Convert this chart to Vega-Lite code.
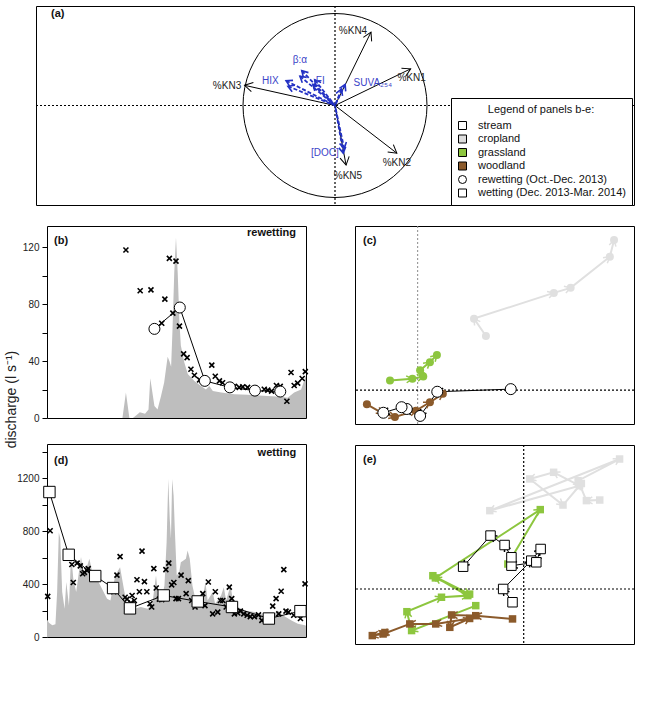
{
  "$schema": "https://vega.github.io/schema/vega-lite/v6.json",
  "background": "white",
  "padding": {"left": 3, "top": 4, "right": 5, "bottom": 5},
  "config": {
    "font": "Liberation Sans",
    "view": {"stroke": "black", "strokeWidth": 1},
    "axis": {"domain": false, "grid": false, "tickColor": "black", "tickSize": 5, "labelFont": "Liberation Sans", "labelFontSize": 10, "labelColor": "#222222", "labelPadding": 3, "titleFont": "Liberation Sans", "titleFontSize": 14, "titleFontWeight": "normal", "titleColor": "#222222"},
    "title": {"font": "Liberation Sans", "fontSize": 11, "fontWeight": "bold", "color": "#111111"}
  },
  "datasets": {
    "loadings": [
      {"var": "%KN1", "x": 0.82, "y": 0.40, "lx": 0.83, "ly": 0.30},
      {"var": "%KN2", "x": 0.67, "y": -0.52, "lx": 0.67, "ly": -0.63},
      {"var": "%KN3", "x": -0.98, "y": 0.22, "lx": -1.17, "ly": 0.21},
      {"var": "%KN4", "x": 0.39, "y": 0.80, "lx": 0.195, "ly": 0.81},
      {"var": "%KN5", "x": 0.12, "y": -0.65, "lx": 0.14, "ly": -0.77}
    ],
    "loadings_optical": [
      {"var": "HIX", "x": -0.53, "y": 0.27},
      {"var": "HIX", "x": -0.51, "y": 0.21},
      {"var": "β:α", "x": -0.36, "y": 0.38},
      {"var": "β:α", "x": -0.38, "y": 0.32},
      {"var": "FI", "x": -0.22, "y": 0.28},
      {"var": "FI", "x": -0.24, "y": 0.23},
      {"var": "SUVA₂₅₄", "x": 0.11, "y": 0.23},
      {"var": "SUVA₂₅₄", "x": 0.07, "y": 0.18},
      {"var": "[DOC]", "x": 0.09, "y": -0.52},
      {"var": "[DOC]", "x": 0.10, "y": -0.47}
    ],
    "labels_optical": [
      {"var": "HIX", "lx": -0.70, "ly": 0.27},
      {"var": "β:α", "lx": -0.38, "ly": 0.50},
      {"var": "FI", "lx": -0.16, "ly": 0.27},
      {"var": "SUVA₂₅₄", "lx": 0.41, "ly": 0.24},
      {"var": "[DOC]", "lx": -0.11, "ly": -0.52}
    ],
    "discharge_rewetting": [
      {"day": 2.8, "q": 0}, {"day": 24.5, "q": 0}, {"day": 25.5, "q": 18}, {"day": 26.5, "q": 0}, {"day": 27.5, "q": 0},
      {"day": 28.5, "q": 2}, {"day": 29.5, "q": 4}, {"day": 31, "q": 3}, {"day": 32, "q": 6}, {"day": 32.5, "q": 28},
      {"day": 33.7, "q": 8.5}, {"day": 34.6, "q": 6}, {"day": 35.6, "q": 15.5}, {"day": 36.5, "q": 25}, {"day": 37.5, "q": 43},
      {"day": 38, "q": 40}, {"day": 38.5, "q": 36}, {"day": 38.9, "q": 62}, {"day": 39.4, "q": 102}, {"day": 39.9, "q": 127},
      {"day": 40.4, "q": 102}, {"day": 40.9, "q": 67}, {"day": 41.3, "q": 51}, {"day": 42.3, "q": 39}, {"day": 43.3, "q": 31},
      {"day": 45.2, "q": 26}, {"day": 47.1, "q": 22.5}, {"day": 48.5, "q": 20}, {"day": 49.5, "q": 22.5}, {"day": 50.5, "q": 19},
      {"day": 52.9, "q": 18}, {"day": 56.7, "q": 16.7}, {"day": 60.5, "q": 16.3}, {"day": 66.3, "q": 15.5}, {"day": 70.1, "q": 15},
      {"day": 72, "q": 14.3}, {"day": 73.9, "q": 18}, {"day": 75.9, "q": 20}, {"day": 77.3, "q": 30}
    ],
    "doc_rewetting_hf": [
      {"day": 25.5, "doc": 18.1}, {"day": 29.6, "doc": 13.7}, {"day": 32.7, "doc": 13.8}, {"day": 36.7, "doc": 12.8},
      {"day": 38.0, "doc": 17.2}, {"day": 39.9, "doc": 16.9}, {"day": 35.8, "doc": 10.2}, {"day": 39.0, "doc": 11.3},
      {"day": 40.9, "doc": 9.9}, {"day": 42.1, "doc": 6.9}, {"day": 43.1, "doc": 6.5}, {"day": 44.2, "doc": 5.25},
      {"day": 45.2, "doc": 4.6}, {"day": 46.7, "doc": 4.1}, {"day": 47.8, "doc": 3.9}, {"day": 50.2, "doc": 5.7},
      {"day": 51.2, "doc": 4.5}, {"day": 52.4, "doc": 4.0}, {"day": 53.3, "doc": 3.8}, {"day": 56.7, "doc": 3.4},
      {"day": 58.1, "doc": 3.3}, {"day": 59.1, "doc": 3.35}, {"day": 60.5, "doc": 3.3}, {"day": 65.3, "doc": 3.1},
      {"day": 66.3, "doc": 3.0}, {"day": 67.4, "doc": 2.9}, {"day": 68.8, "doc": 3.5}, {"day": 69.9, "doc": 3.4},
      {"day": 71.8, "doc": 1.8}, {"day": 73.0, "doc": 4.9}, {"day": 73.9, "doc": 3.5}, {"day": 74.9, "doc": 3.75},
      {"day": 76.2, "doc": 4.25}, {"day": 77.1, "doc": 5.0}
    ],
    "doc_rewetting_samples": [
      {"day": 33.7, "doc": 9.6}, {"day": 41.0, "doc": 11.9}, {"day": 48.2, "doc": 4.0},
      {"day": 55.4, "doc": 3.3}, {"day": 62.6, "doc": 2.95}, {"day": 69.9, "doc": 2.85}
    ],
    "discharge_wetting": [
      {"day": 77.7, "q": 130}, {"day": 78, "q": 125}, {"day": 78.5, "q": 108}, {"day": 79.9, "q": 88}, {"day": 81.2, "q": 96},
      {"day": 81.9, "q": 340}, {"day": 82.6, "q": 792}, {"day": 83.2, "q": 742}, {"day": 84, "q": 340}, {"day": 85, "q": 214},
      {"day": 85.7, "q": 415}, {"day": 86.8, "q": 239}, {"day": 87.7, "q": 629}, {"day": 88.6, "q": 440}, {"day": 89.8, "q": 340},
      {"day": 91.8, "q": 604}, {"day": 93, "q": 465}, {"day": 95.3, "q": 591}, {"day": 96.1, "q": 520}, {"day": 97.1, "q": 453},
      {"day": 98.4, "q": 440}, {"day": 100.5, "q": 365}, {"day": 102.6, "q": 289}, {"day": 104, "q": 276}, {"day": 106, "q": 465},
      {"day": 108, "q": 528}, {"day": 109.8, "q": 340}, {"day": 111, "q": 239}, {"day": 113.9, "q": 214}, {"day": 116.6, "q": 226},
      {"day": 119.4, "q": 214}, {"day": 121.4, "q": 251}, {"day": 122.9, "q": 465}, {"day": 123.9, "q": 289}, {"day": 125, "q": 264},
      {"day": 126.4, "q": 390}, {"day": 127.3, "q": 717}, {"day": 128, "q": 1195}, {"day": 128.6, "q": 893}, {"day": 129.1, "q": 742},
      {"day": 129.6, "q": 1195}, {"day": 130.2, "q": 1069}, {"day": 130.7, "q": 817}, {"day": 131.5, "q": 465}, {"day": 132.5, "q": 490},
      {"day": 133.2, "q": 566}, {"day": 134.3, "q": 578}, {"day": 135.3, "q": 591}, {"day": 136, "q": 654}, {"day": 136.9, "q": 591},
      {"day": 138, "q": 390}, {"day": 139.2, "q": 289}, {"day": 140.6, "q": 239}, {"day": 142.2, "q": 289}, {"day": 143.4, "q": 415},
      {"day": 144.3, "q": 276}, {"day": 146.4, "q": 340}, {"day": 147.4, "q": 251}, {"day": 149.9, "q": 314}, {"day": 151, "q": 377},
      {"day": 152, "q": 276}, {"day": 153.8, "q": 390}, {"day": 154.9, "q": 264}, {"day": 156.8, "q": 226}, {"day": 159.6, "q": 201},
      {"day": 163.7, "q": 189}, {"day": 167.9, "q": 164}, {"day": 170.6, "q": 151}, {"day": 173.4, "q": 201}, {"day": 175.5, "q": 164},
      {"day": 178.9, "q": 126}, {"day": 181.7, "q": 101}, {"day": 184.7, "q": 88}, {"day": 185.1, "q": 85}
    ],
    "doc_wetting_hf": [
      {"day": 78, "doc": 4.4}, {"day": 79, "doc": 11.5}, {"day": 88.6, "doc": 5.9}, {"day": 88, "doc": 7.85}, {"day": 90.2, "doc": 8.0},
      {"day": 91.5, "doc": 7.7}, {"day": 92.5, "doc": 6.85}, {"day": 93.2, "doc": 7.0}, {"day": 94.3, "doc": 7.2}, {"day": 94.8, "doc": 7.4},
      {"day": 106.7, "doc": 6.7}, {"day": 108, "doc": 8.7}, {"day": 105.4, "doc": 4.9}, {"day": 110.1, "doc": 4.3}, {"day": 110.9, "doc": 4.1},
      {"day": 113, "doc": 4.5}, {"day": 113.9, "doc": 3.95}, {"day": 112.5, "doc": 3.7}, {"day": 115, "doc": 6.2}, {"day": 116, "doc": 4.9},
      {"day": 117.1, "doc": 9.3}, {"day": 118.1, "doc": 6.0}, {"day": 119.1, "doc": 4.9}, {"day": 120.4, "doc": 3.6}, {"day": 121.1, "doc": 3.25},
      {"day": 122, "doc": 7.4}, {"day": 123, "doc": 5.3}, {"day": 124.3, "doc": 4.1}, {"day": 125.3, "doc": 4.05}, {"day": 127, "doc": 7.3},
      {"day": 128.2, "doc": 8.0}, {"day": 129.4, "doc": 5.65}, {"day": 130.3, "doc": 5.9}, {"day": 131.2, "doc": 4.15}, {"day": 132.2, "doc": 4.15},
      {"day": 133.3, "doc": 6.7}, {"day": 135.4, "doc": 4.7}, {"day": 136.3, "doc": 6.1}, {"day": 137.7, "doc": 3.95}, {"day": 139.1, "doc": 3.25},
      {"day": 141.6, "doc": 3.6}, {"day": 142.3, "doc": 4.7}, {"day": 143.2, "doc": 3.4}, {"day": 144.6, "doc": 5.95}, {"day": 146.4, "doc": 2.5},
      {"day": 147.5, "doc": 4.9}, {"day": 148.5, "doc": 2.7}, {"day": 149.6, "doc": 3.95}, {"day": 150.6, "doc": 3.95}, {"day": 152, "doc": 3.25},
      {"day": 153.3, "doc": 5.4}, {"day": 154.3, "doc": 4.15}, {"day": 155.4, "doc": 2.5}, {"day": 156.8, "doc": 2.6}, {"day": 157.9, "doc": 2.8},
      {"day": 159.3, "doc": 2.5}, {"day": 160.7, "doc": 2.35}, {"day": 162, "doc": 2.2}, {"day": 163.7, "doc": 2.2}, {"day": 165.4, "doc": 2.4},
      {"day": 166.8, "doc": 1.8}, {"day": 171.3, "doc": 3.35}, {"day": 172.7, "doc": 4.15}, {"day": 173.8, "doc": 2.5}, {"day": 174.8, "doc": 4.95},
      {"day": 175.9, "doc": 7.3}, {"day": 176.8, "doc": 2.8}, {"day": 177.8, "doc": 2.7}, {"day": 180, "doc": 2.35}, {"day": 182.8, "doc": 2.0},
      {"day": 184.7, "doc": 5.75}
    ],
    "doc_wetting_samples": [
      {"day": 78.7, "doc": 15.7}, {"day": 86.7, "doc": 8.9}, {"day": 97.7, "doc": 6.6}, {"day": 105.1, "doc": 5.3}, {"day": 112.1, "doc": 3.1},
      {"day": 126.1, "doc": 4.5}, {"day": 140.2, "doc": 3.85}, {"day": 154.4, "doc": 3.25}, {"day": 169.7, "doc": 2.0}, {"day": 182.8, "doc": 2.8}
    ],
    "traj_rewetting": [
      {"group": "cropland", "seq": 1, "pc1": 1.95, "pc2": 5.16}, {"group": "cropland", "seq": 2, "pc1": 1.61, "pc2": 6.81},
      {"group": "cropland", "seq": 3, "pc1": 3.89, "pc2": 9.26}, {"group": "cropland", "seq": 4, "pc1": 4.37, "pc2": 9.74},
      {"group": "cropland", "seq": 5, "pc1": 5.49, "pc2": 12.7}, {"group": "cropland", "seq": 6, "pc1": 5.61, "pc2": 14.3},
      {"group": "grassland", "seq": 1, "pc1": -0.79, "pc2": 0.92}, {"group": "grassland", "seq": 2, "pc1": -0.15, "pc2": 1.08},
      {"group": "grassland", "seq": 3, "pc1": 0.16, "pc2": 1.3}, {"group": "grassland", "seq": 4, "pc1": 0.07, "pc2": 1.9},
      {"group": "grassland", "seq": 5, "pc1": 0.35, "pc2": 2.67}, {"group": "grassland", "seq": 6, "pc1": 0.55, "pc2": 3.35},
      {"group": "woodland", "seq": 1, "pc1": -1.45, "pc2": -1.35}, {"group": "woodland", "seq": 2, "pc1": -1.0, "pc2": -2.2},
      {"group": "woodland", "seq": 3, "pc1": -0.65, "pc2": -2.55}, {"group": "woodland", "seq": 4, "pc1": -0.05, "pc2": -1.95},
      {"group": "woodland", "seq": 5, "pc1": 0.35, "pc2": -1.15}, {"group": "woodland", "seq": 6, "pc1": 0.72, "pc2": -0.35},
      {"group": "stream", "seq": 1, "pc1": 2.66, "pc2": 0.1}, {"group": "stream", "seq": 2, "pc1": 0.56, "pc2": -0.15},
      {"group": "stream", "seq": 3, "pc1": 0.07, "pc2": -2.45}, {"group": "stream", "seq": 4, "pc1": -0.31, "pc2": -1.79},
      {"group": "stream", "seq": 5, "pc1": -0.46, "pc2": -1.62}, {"group": "stream", "seq": 6, "pc1": -0.98, "pc2": -2.15}
    ],
    "traj_wetting": [
      {"group": "cropland", "seq": 1, "pc1": 2.11, "pc2": 6.03}, {"group": "cropland", "seq": 2, "pc1": 1.74, "pc2": 5.99},
      {"group": "cropland", "seq": 3, "pc1": 1.51, "pc2": 7.34}, {"group": "cropland", "seq": 4, "pc1": 2.66, "pc2": 8.81},
      {"group": "cropland", "seq": 5, "pc1": -0.94, "pc2": 5.31}, {"group": "cropland", "seq": 6, "pc1": 1.55, "pc2": 7.0},
      {"group": "cropland", "seq": 7, "pc1": 0.83, "pc2": 7.91}, {"group": "cropland", "seq": 8, "pc1": 0.17, "pc2": 7.46},
      {"group": "cropland", "seq": 9, "pc1": 1.09, "pc2": 5.69}, {"group": "cropland", "seq": 10, "pc1": 1.6, "pc2": 7.15},
      {"group": "grassland", "seq": 1, "pc1": -1.33, "pc2": -1.13}, {"group": "grassland", "seq": 2, "pc1": -3.11, "pc2": -2.82},
      {"group": "grassland", "seq": 3, "pc1": -3.24, "pc2": -1.54}, {"group": "grassland", "seq": 4, "pc1": -2.28, "pc2": -0.56},
      {"group": "grassland", "seq": 5, "pc1": -1.55, "pc2": -0.45}, {"group": "grassland", "seq": 6, "pc1": -2.52, "pc2": 0.9},
      {"group": "grassland", "seq": 7, "pc1": -1.5, "pc2": -0.35}, {"group": "grassland", "seq": 8, "pc1": -2.45, "pc2": 0.75},
      {"group": "grassland", "seq": 9, "pc1": 0.46, "pc2": 5.38}, {"group": "grassland", "seq": 10, "pc1": -0.44, "pc2": 1.69},
      {"group": "woodland", "seq": 1, "pc1": -0.31, "pc2": -2.03}, {"group": "woodland", "seq": 2, "pc1": -1.33, "pc2": -1.81},
      {"group": "woodland", "seq": 3, "pc1": -2.0, "pc2": -1.76}, {"group": "woodland", "seq": 4, "pc1": -2.05, "pc2": -2.6},
      {"group": "woodland", "seq": 5, "pc1": -1.5, "pc2": -2.0}, {"group": "woodland", "seq": 6, "pc1": -2.44, "pc2": -2.37},
      {"group": "woodland", "seq": 7, "pc1": -3.16, "pc2": -2.37}, {"group": "woodland", "seq": 8, "pc1": -3.9, "pc2": -3.05},
      {"group": "woodland", "seq": 9, "pc1": -4.2, "pc2": -3.16}, {"group": "woodland", "seq": 10, "pc1": -3.85, "pc2": -2.95},
      {"group": "stream", "seq": 1, "pc1": -0.31, "pc2": -0.9}, {"group": "stream", "seq": 2, "pc1": -0.57, "pc2": 0.0},
      {"group": "stream", "seq": 3, "pc1": 0.21, "pc2": 1.92}, {"group": "stream", "seq": 4, "pc1": 0.47, "pc2": 2.71},
      {"group": "stream", "seq": 5, "pc1": 0.35, "pc2": 1.81}, {"group": "stream", "seq": 6, "pc1": -0.34, "pc2": 1.58},
      {"group": "stream", "seq": 7, "pc1": -0.34, "pc2": 2.15}, {"group": "stream", "seq": 8, "pc1": -0.53, "pc2": 2.98},
      {"group": "stream", "seq": 9, "pc1": -0.92, "pc2": 3.62}, {"group": "stream", "seq": 10, "pc1": -1.68, "pc2": 1.51}
    ],
    "legend_entries": []
  },
  "bounds": "flush",
  "spacing": 21,
  "vconcat": [
    {
      "width": 598,
      "height": 199,
      "title": {"text": "(a)", "anchor": "start", "frame": "group", "offset": -14, "dx": 15},
      "layer": [
        {
          "data": {"values": [{}]},
          "mark": {"type": "rule", "strokeDash": [2, 2], "color": "black", "strokeWidth": 1.2},
          "encoding": {
            "x": {"datum": 0, "type": "quantitative", "scale": {"domain": [-3.24, 3.24], "nice": false, "zero": false},
                  "axis": {"orient": "bottom", "values": [-3, -2, -1, 0, 1, 2, 3], "format": "d", "title": null, "labelPadding": 2}}
          }
        },
        {
          "data": {"values": [{}]},
          "mark": {"type": "rule", "strokeDash": [2, 2], "color": "black", "strokeWidth": 1.2},
          "encoding": {
            "y": {"datum": 0, "type": "quantitative", "scale": {"domain": [-1.085, 1.085], "nice": false, "zero": false},
                  "axis": {"orient": "right", "values": [-1, -0.5, 0, 0.5, 1], "format": ".1f", "title": null, "labelPadding": 5}}
          }
        },
        {
          "data": {"values": [{}]},
          "mark": {"type": "point", "shape": "circle", "size": 33856, "filled": false, "stroke": "black", "strokeWidth": 1, "opacity": 1},
          "encoding": {
            "x": {"datum": 0, "type": "quantitative", "axis": null},
            "y": {"datum": 0, "type": "quantitative", "axis": null}
          }
        },
        {
          "data": {"name": "loadings"},
          "mark": {"type": "rule", "color": "black", "strokeWidth": 1},
          "encoding": {
            "x": {"field": "x", "type": "quantitative", "axis": null},
            "x2": {"datum": 0},
            "y": {"field": "y", "type": "quantitative", "axis": null},
            "y2": {"datum": 0}
          }
        },
        {
          "data": {"name": "loadings"},
          "transform": [{"calculate": "atan2(datum.x, datum.y) * 180 / PI", "as": "heading"}],
          "mark": {"type": "point", "shape": "M -0.58 1 L 0 0 L 0.58 1", "filled": false, "size": 256, "stroke": "black", "strokeWidth": 1, "opacity": 1},
          "encoding": {
            "x": {"field": "x", "type": "quantitative", "axis": null},
            "y": {"field": "y", "type": "quantitative", "axis": null},
            "angle": {"field": "heading", "type": "quantitative", "scale": null}
          }
        },
        {
          "data": {"name": "loadings"},
          "mark": {"type": "text", "font": "Liberation Sans", "fontSize": 10, "color": "#222222"},
          "encoding": {
            "x": {"field": "lx", "type": "quantitative", "axis": null},
            "y": {"field": "ly", "type": "quantitative", "axis": null},
            "text": {"field": "var"}
          }
        },
        {
          "data": {"name": "loadings_optical"},
          "mark": {"type": "rule", "color": "#2432c4", "strokeWidth": 1.8, "strokeDash": [4, 2]},
          "encoding": {
            "x": {"field": "x", "type": "quantitative", "axis": null},
            "x2": {"datum": 0},
            "y": {"field": "y", "type": "quantitative", "axis": null},
            "y2": {"datum": 0}
          }
        },
        {
          "data": {"name": "loadings_optical"},
          "transform": [{"calculate": "atan2(datum.x, datum.y) * 180 / PI", "as": "heading"}],
          "mark": {"type": "point", "shape": "M -0.58 1 L 0 0 L 0.58 1", "filled": false, "size": 144, "stroke": "#2432c4", "strokeWidth": 1.6, "opacity": 1},
          "encoding": {
            "x": {"field": "x", "type": "quantitative", "axis": null},
            "y": {"field": "y", "type": "quantitative", "axis": null},
            "angle": {"field": "heading", "type": "quantitative", "scale": null}
          }
        },
        {
          "data": {"name": "labels_optical"},
          "mark": {"type": "text", "font": "Liberation Sans", "fontSize": 10, "color": "#3b44c8"},
          "encoding": {
            "x": {"field": "lx", "type": "quantitative", "axis": null},
            "y": {"field": "ly", "type": "quantitative", "axis": null},
            "text": {"field": "var"}
          }
        },
        {
          "data": {"name": "legend_entries"},
          "mark": {"type": "point", "filled": true, "strokeWidth": 1, "opacity": 1},
          "encoding": {
            "shape": {"field": "entry", "type": "nominal",
              "scale": {"domain": ["stream", "cropland", "grassland", "woodland", "rewetting (Oct.-Dec. 2013)", "wetting (Dec. 2013-Mar. 2014)"],
                        "range": ["square", "square", "square", "square", "circle", "square"]},
              "legend": {"title": "Legend of panels b-e:", "orient": "none", "legendX": 415, "legendY": 92, "fillColor": "white", "strokeColor": "black", "padding": 6, "titleAnchor": "middle", "titleFontWeight": "normal", "titleFontSize": 11, "titleFont": "Liberation Sans", "titleColor": "#111111", "titlePadding": 5, "labelFontSize": 11, "labelFont": "Liberation Sans", "labelColor": "#111111", "labelOffset": 10, "rowPadding": 0.5, "symbolSize": 64, "symbolStrokeWidth": 1}},
            "fill": {"field": "entry", "type": "nominal",
              "scale": {"domain": ["stream", "cropland", "grassland", "woodland", "rewetting (Oct.-Dec. 2013)", "wetting (Dec. 2013-Mar. 2014)"],
                        "range": ["white", "#dcdcdc", "#8dc63f", "#8b5a2b", "white", "white"]},
              "legend": {"title": "Legend of panels b-e:", "orient": "none", "legendX": 415, "legendY": 92, "fillColor": "white", "strokeColor": "black", "padding": 6, "titleAnchor": "middle", "titleFontWeight": "normal", "titleFontSize": 11, "titleFont": "Liberation Sans", "titleColor": "#111111", "titlePadding": 5, "labelFontSize": 11, "labelFont": "Liberation Sans", "labelColor": "#111111", "labelOffset": 10, "rowPadding": 0.5, "symbolSize": 64, "symbolStrokeWidth": 1}},
            "stroke": {"field": "entry", "type": "nominal",
              "scale": {"domain": ["stream", "cropland", "grassland", "woodland", "rewetting (Oct.-Dec. 2013)", "wetting (Dec. 2013-Mar. 2014)"],
                        "range": ["black", "black", "black", "black", "black", "black"]},
              "legend": {"title": "Legend of panels b-e:", "orient": "none", "legendX": 415, "legendY": 92, "fillColor": "white", "strokeColor": "black", "padding": 6, "titleAnchor": "middle", "titleFontWeight": "normal", "titleFontSize": 11, "titleFont": "Liberation Sans", "titleColor": "#111111", "titlePadding": 5, "labelFontSize": 11, "labelFont": "Liberation Sans", "labelColor": "#111111", "labelOffset": 10, "rowPadding": 0.5, "symbolSize": 64, "symbolStrokeWidth": 1}}
          }
        }
      ]
    },
    {
      "hconcat": [
        {"width": 11, "height": 10, "view": {"stroke": null}, "data": {"values": []}, "mark": "point", "encoding": {}},
        {
          "hconcat": [
            {
              "vconcat": [
                {
                  "width": 259,
                  "height": 192,
                  "title": {"text": "(b)", "anchor": "start", "frame": "group", "offset": -20, "dx": 7},
                  "layer": [
                    {
                      "data": {"name": "discharge_rewetting"},
                      "mark": {"type": "area", "color": "#bebebe", "clip": true},
                      "encoding": {
                        "x": {"field": "day", "type": "quantitative", "scale": {"domain": [2.8, 77.3], "nice": false, "zero": false},
                              "axis": {"orient": "bottom", "values": [7, 12, 19, 26, 33, 40, 47, 54, 61, 68, 75], "title": null, "labelPadding": 2,
                                       "labelExpr": "indexof([7, 19, 33, 47, 61, 75], datum.value) >= 0 ? timeFormat(datetime(2013, 9, 1 + datum.value), '%m/%d') : ''",
                                       "tickOpacity": {"condition": {"test": "indexof([7, 19, 33, 47, 61, 75], datum.value) >= 0", "value": 0}, "value": 1},
                                       "labelOffset": {"condition": {"test": "datum.value === 7", "value": -14}, "value": 0}}},
                        "y": {"field": "q", "type": "quantitative", "scale": {"domain": [0, 135], "nice": false, "zero": false},
                              "axis": {"orient": "left", "values": [0, 20, 40, 60, 80, 100, 120], "labelExpr": "datum.value % 40 === 0 ? datum.label : ''",
                                       "title": "discharge (l s⁻¹)", "titleX": -36, "titleY": 173, "titleAngle": -90, "titleBaseline": "middle", "titleAlign": "center"}}
                      }
                    },
                    {
                      "layer": [
                        {
                          "data": {"name": "doc_rewetting_samples"},
                          "mark": {"type": "line", "color": "black", "strokeWidth": 1},
                          "encoding": {
                            "x": {"field": "day", "type": "quantitative", "axis": null},
                            "y": {"field": "doc", "type": "quantitative", "scale": {"domain": [0, 20.68], "nice": false, "zero": false},
                                  "axis": {"orient": "right", "values": [0, 5, 10, 15, 20], "labelExpr": "datum.value % 10 === 0 ? datum.label : ''",
                                           "title": "[DOC] (mg l⁻¹)", "titleX": 30, "titleY": 173, "titleAngle": -90, "titleBaseline": "middle", "titleAlign": "center"}}
                          }
                        },
                        {
                          "data": {"name": "doc_rewetting_hf"},
                          "mark": {"type": "point", "shape": "M -1 -1 L 1 1 M -1 1 L 1 -1", "filled": false, "size": 25, "stroke": "black", "strokeWidth": 1.6, "opacity": 1},
                          "encoding": {
                            "x": {"field": "day", "type": "quantitative", "axis": null},
                            "y": {"field": "doc", "type": "quantitative", "axis": null}
                          }
                        },
                        {
                          "data": {"name": "doc_rewetting_samples"},
                          "mark": {"type": "point", "shape": "circle", "size": 121, "filled": true, "fill": "white", "stroke": "black", "strokeWidth": 1, "opacity": 1},
                          "encoding": {
                            "x": {"field": "day", "type": "quantitative", "axis": null},
                            "y": {"field": "doc", "type": "quantitative", "axis": null}
                          }
                        },
                        {
                          "data": {"values": [{"label": "rewetting"}]},
                          "mark": {"type": "text", "font": "Liberation Sans", "align": "right", "baseline": "middle", "fontSize": 11, "fontWeight": "bold", "color": "#111111"},
                          "encoding": {
                            "x": {"datum": 74.4, "type": "quantitative", "axis": null},
                            "y": {"datum": 19.9, "type": "quantitative", "axis": null},
                            "text": {"field": "label"}
                          }
                        }
                      ]
                    }
                  ],
                  "resolve": {"scale": {"y": "independent"}}
                },
                {
                  "width": 259,
                  "height": 193,
                  "title": {"text": "(d)", "anchor": "start", "frame": "group", "offset": -22, "dx": 7},
                  "layer": [
                    {
                      "data": {"name": "discharge_wetting"},
                      "mark": {"type": "area", "color": "#bebebe", "clip": true},
                      "encoding": {
                        "x": {"field": "day", "type": "quantitative", "scale": {"domain": [77.7, 185.1], "nice": false, "zero": false},
                              "axis": {"orient": "bottom", "values": [78, 85, 92, 99, 106, 113, 120, 127, 134, 141, 148, 155, 162, 169, 176, 183], "labelPadding": 2,
                                       "labelExpr": "(datum.value - 78) % 14 === 0 ? timeFormat(datetime(2013, 9, 1 + datum.value), '%m/%d') : ''",
                                       "title": "date", "titleY": 35, "titleBaseline": "middle"}},
                        "y": {"field": "q", "type": "quantitative", "scale": {"domain": [0, 1459], "nice": false, "zero": false},
                              "axis": {"orient": "left", "values": [0, 200, 400, 600, 800, 1000, 1200, 1400], "labelExpr": "datum.value % 400 === 0 ? datum.label : ''", "format": "d", "title": null}}
                      }
                    },
                    {
                      "layer": [
                        {
                          "data": {"name": "doc_wetting_samples"},
                          "mark": {"type": "line", "color": "black", "strokeWidth": 1},
                          "encoding": {
                            "x": {"field": "day", "type": "quantitative", "axis": null},
                            "y": {"field": "doc", "type": "quantitative", "scale": {"domain": [0, 20.9], "nice": false, "zero": false},
                                  "axis": {"orient": "right", "values": [0, 5, 10, 15, 20], "labelExpr": "datum.value % 10 === 0 ? datum.label : ''", "title": null}}
                          }
                        },
                        {
                          "data": {"name": "doc_wetting_hf"},
                          "mark": {"type": "point", "shape": "M -1 -1 L 1 1 M -1 1 L 1 -1", "filled": false, "size": 25, "stroke": "black", "strokeWidth": 1.6, "opacity": 1},
                          "encoding": {
                            "x": {"field": "day", "type": "quantitative", "axis": null},
                            "y": {"field": "doc", "type": "quantitative", "axis": null}
                          }
                        },
                        {
                          "data": {"name": "doc_wetting_samples"},
                          "mark": {"type": "point", "shape": "square", "size": 130, "filled": true, "fill": "white", "stroke": "black", "strokeWidth": 1, "opacity": 1},
                          "encoding": {
                            "x": {"field": "day", "type": "quantitative", "axis": null},
                            "y": {"field": "doc", "type": "quantitative", "axis": null}
                          }
                        },
                        {
                          "data": {"values": [{"label": "wetting"}]},
                          "mark": {"type": "text", "font": "Liberation Sans", "align": "right", "baseline": "middle", "fontSize": 11, "fontWeight": "bold", "color": "#111111"},
                          "encoding": {
                            "x": {"datum": 181, "type": "quantitative", "axis": null},
                            "y": {"datum": 19.9, "type": "quantitative", "axis": null},
                            "text": {"field": "label"}
                          }
                        }
                      ]
                    }
                  ],
                  "resolve": {"scale": {"y": "independent"}}
                }
              ],
              "spacing": 26,
              "bounds": "flush"
            },
            {
              "vconcat": [
                {
                  "width": 279,
                  "height": 198,
                  "title": {"text": "(c)", "anchor": "start", "frame": "group", "offset": -20, "dx": 8},
                  "layer": [
                    {
                      "data": {"name": "traj_rewetting"},
                      "transform": [{"filter": "datum.group !== 'stream'"}],
                      "mark": {"type": "line", "strokeWidth": 2},
                      "encoding": {
                        "x": {"field": "pc1", "type": "quantitative", "scale": {"domain": [-1.79, 6.18], "nice": false, "zero": false},
                              "axis": {"orient": "bottom", "values": [0, 2, 4, 6], "title": null, "labelPadding": 2}},
                        "y": {"field": "pc2", "type": "quantitative", "scale": {"domain": [-3.22, 15.63], "nice": false, "zero": false},
                              "axis": {"orient": "right", "values": [0, 5, 10, 15], "title": "PC 2 (30.8%)", "titleX": 31, "titleY": 119, "titleAngle": -90, "titleBaseline": "middle", "titleAlign": "center"}},
                        "detail": {"field": "group", "type": "nominal"},
                        "order": {"field": "seq", "type": "quantitative"},
                        "stroke": {"condition": [{"test": "datum.group === 'cropland'", "value": "#e0e0e0"}, {"test": "datum.group === 'grassland'", "value": "#8dc63f"}], "value": "#8b5a2b"}
                      }
                    },
                    {
                      "data": {"values": [{}]},
                      "mark": {"type": "rule", "strokeDash": [2, 2], "color": "#8a8a8a", "strokeWidth": 1},
                      "encoding": {"x": {"datum": 0, "type": "quantitative", "axis": null}}
                    },
                    {
                      "data": {"values": [{}]},
                      "mark": {"type": "rule", "strokeDash": [2, 2], "color": "black", "strokeWidth": 1.2},
                      "encoding": {"y": {"datum": 0, "type": "quantitative", "axis": null}}
                    },
                    {
                      "data": {"name": "traj_rewetting"},
                      "transform": [{"filter": "datum.group === 'stream'"}],
                      "mark": {"type": "line", "strokeWidth": 1, "color": "black"},
                      "encoding": {
                        "x": {"field": "pc1", "type": "quantitative", "axis": null},
                        "y": {"field": "pc2", "type": "quantitative", "axis": null},
                        "order": {"field": "seq", "type": "quantitative"}
                      }
                    },
                    {
                      "data": {"name": "traj_rewetting"},
                      "transform": [
                        {"window": [{"op": "lag", "field": "pc1", "as": "pc1_prev"}, {"op": "lag", "field": "pc2", "as": "pc2_prev"}], "groupby": ["group"], "sort": [{"field": "seq"}]},
                        {"filter": "datum.pc1_prev != null"},
                        {"calculate": "atan2((datum.pc1 - datum.pc1_prev) * 35, (datum.pc2 - datum.pc2_prev) * 10.47) * 180 / PI", "as": "heading"}
                      ],
                      "mark": {"type": "point", "shape": "M -0.58 1 L 0 0 L 0.58 1", "filled": false, "size": 144, "strokeWidth": 1.5, "opacity": 1},
                      "encoding": {
                        "x": {"field": "pc1", "type": "quantitative", "axis": null},
                        "y": {"field": "pc2", "type": "quantitative", "axis": null},
                        "angle": {"field": "heading", "type": "quantitative", "scale": null},
                        "stroke": {"condition": [{"test": "datum.group === 'cropland'", "value": "#e0e0e0"}, {"test": "datum.group === 'grassland'", "value": "#8dc63f"}, {"test": "datum.group === 'woodland'", "value": "#8b5a2b"}], "value": "#000000"}
                      }
                    },
                    {
                      "data": {"name": "traj_rewetting"},
                      "transform": [{"filter": "datum.group !== 'stream'"}],
                      "mark": {"type": "point", "shape": "circle", "size": 64, "filled": true, "opacity": 1},
                      "encoding": {
                        "x": {"field": "pc1", "type": "quantitative", "axis": null},
                        "y": {"field": "pc2", "type": "quantitative", "axis": null},
                        "fill": {"condition": [{"test": "datum.group === 'cropland'", "value": "#e0e0e0"}, {"test": "datum.group === 'grassland'", "value": "#8dc63f"}], "value": "#8b5a2b"}
                      }
                    },
                    {
                      "data": {"name": "traj_rewetting"},
                      "transform": [{"filter": "datum.group === 'stream'"}],
                      "mark": {"type": "point", "shape": "circle", "size": 121, "filled": true, "fill": "white", "stroke": "black", "strokeWidth": 1, "opacity": 1},
                      "encoding": {
                        "x": {"field": "pc1", "type": "quantitative", "axis": null},
                        "y": {"field": "pc2", "type": "quantitative", "axis": null}
                      }
                    }
                  ]
                },
                {
                  "width": 279,
                  "height": 199,
                  "title": {"text": "(e)", "anchor": "start", "frame": "group", "offset": -21, "dx": 8},
                  "layer": [
                    {
                      "data": {"name": "traj_wetting"},
                      "transform": [{"filter": "datum.group !== 'stream'"}],
                      "mark": {"type": "line", "strokeWidth": 2},
                      "encoding": {
                        "x": {"field": "pc1", "type": "quantitative", "scale": {"domain": [-4.68, 3.06], "nice": false, "zero": false},
                              "axis": {"orient": "bottom", "values": [-4, -3, -2, -1, 0, 1, 2, 3], "title": "PC 1 (43.8%)", "titleX": 112, "titleY": 25, "titleBaseline": "middle", "labelPadding": 2}},
                        "y": {"field": "pc2", "type": "quantitative", "scale": {"domain": [-3.73, 9.76], "nice": false, "zero": false},
                              "axis": {"orient": "right", "values": [-2, 0, 2, 4, 6, 8], "title": null}},
                        "detail": {"field": "group", "type": "nominal"},
                        "order": {"field": "seq", "type": "quantitative"},
                        "stroke": {"condition": [{"test": "datum.group === 'cropland'", "value": "#e0e0e0"}, {"test": "datum.group === 'grassland'", "value": "#8dc63f"}], "value": "#8b5a2b"}
                      }
                    },
                    {
                      "data": {"values": [{}]},
                      "mark": {"type": "rule", "strokeDash": [2, 2], "color": "black", "strokeWidth": 1.2},
                      "encoding": {"x": {"datum": 0, "type": "quantitative", "axis": null}}
                    },
                    {
                      "data": {"values": [{}]},
                      "mark": {"type": "rule", "strokeDash": [2, 2], "color": "black", "strokeWidth": 1.2},
                      "encoding": {"y": {"datum": 0, "type": "quantitative", "axis": null}}
                    },
                    {
                      "data": {"name": "traj_wetting"},
                      "transform": [{"filter": "datum.group === 'stream'"}],
                      "mark": {"type": "line", "strokeWidth": 1, "color": "black"},
                      "encoding": {
                        "x": {"field": "pc1", "type": "quantitative", "axis": null},
                        "y": {"field": "pc2", "type": "quantitative", "axis": null},
                        "order": {"field": "seq", "type": "quantitative"}
                      }
                    },
                    {
                      "data": {"name": "traj_wetting"},
                      "transform": [
                        {"window": [{"op": "lag", "field": "pc1", "as": "pc1_prev"}, {"op": "lag", "field": "pc2", "as": "pc2_prev"}], "groupby": ["group"], "sort": [{"field": "seq"}]},
                        {"filter": "datum.pc1_prev != null"},
                        {"calculate": "atan2((datum.pc1 - datum.pc1_prev) * 36.06, (datum.pc2 - datum.pc2_prev) * 14.75) * 180 / PI", "as": "heading"}
                      ],
                      "mark": {"type": "point", "shape": "M -0.58 1 L 0 0 L 0.58 1", "filled": false, "size": 144, "strokeWidth": 1.5, "opacity": 1},
                      "encoding": {
                        "x": {"field": "pc1", "type": "quantitative", "axis": null},
                        "y": {"field": "pc2", "type": "quantitative", "axis": null},
                        "angle": {"field": "heading", "type": "quantitative", "scale": null},
                        "stroke": {"condition": [{"test": "datum.group === 'cropland'", "value": "#e0e0e0"}, {"test": "datum.group === 'grassland'", "value": "#8dc63f"}, {"test": "datum.group === 'woodland'", "value": "#8b5a2b"}], "value": "#000000"}
                      }
                    },
                    {
                      "data": {"name": "traj_wetting"},
                      "transform": [{"filter": "datum.group !== 'stream'"}],
                      "mark": {"type": "point", "shape": "square", "size": 56, "filled": true, "opacity": 1},
                      "encoding": {
                        "x": {"field": "pc1", "type": "quantitative", "axis": null},
                        "y": {"field": "pc2", "type": "quantitative", "axis": null},
                        "fill": {"condition": [{"test": "datum.group === 'cropland'", "value": "#e0e0e0"}, {"test": "datum.group === 'grassland'", "value": "#8dc63f"}], "value": "#8b5a2b"}
                      }
                    },
                    {
                      "data": {"name": "traj_wetting"},
                      "transform": [{"filter": "datum.group === 'stream'"}],
                      "mark": {"type": "point", "shape": "square", "size": 90, "filled": true, "fill": "white", "stroke": "black", "strokeWidth": 1, "opacity": 1},
                      "encoding": {
                        "x": {"field": "pc1", "type": "quantitative", "axis": null},
                        "y": {"field": "pc2", "type": "quantitative", "axis": null}
                      }
                    }
                  ]
                }
              ],
              "spacing": 21,
              "bounds": "flush"
            }
          ],
          "spacing": 308,
          "bounds": "flush"
        }
      ],
      "spacing": 0,
      "bounds": "flush"
    }
  ]
}
